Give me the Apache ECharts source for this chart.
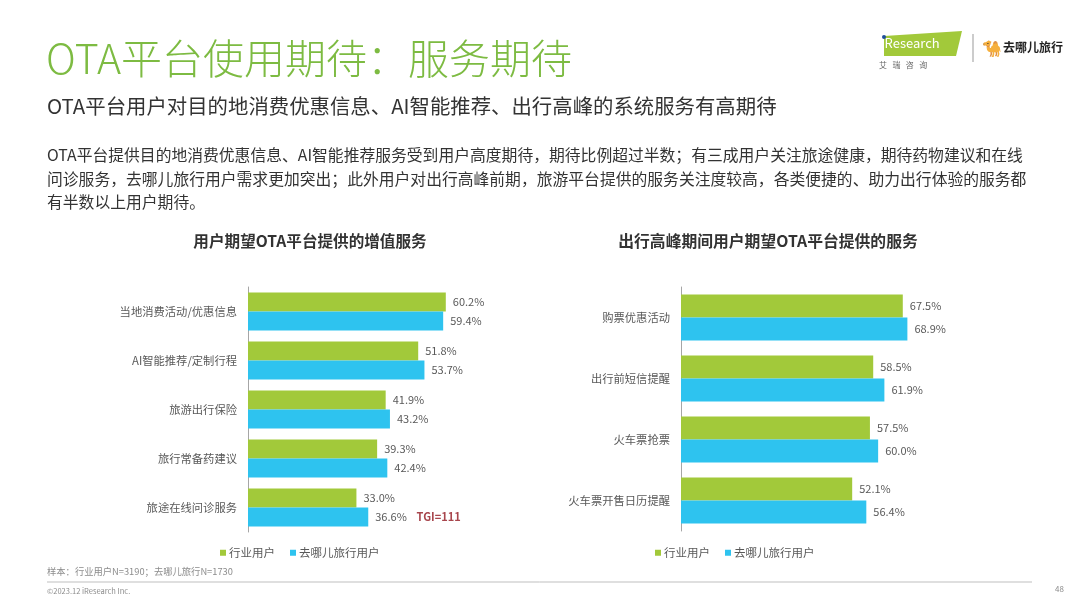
<!DOCTYPE html>
<html lang="zh">

<head>
    <meta charset="UTF-8">
    <title>OTA平台使用期待：服务期待</title>
    <style>
        html, body { margin: 0; padding: 0; background: #fff; }
    </style>
</head>

<body>
    <div id="main" style="width: 1080px; height: 608px"></div>
    <script src="https://cdn.jsdelivr.net/npm/echarts@6/dist/echarts.min.js"></script>
    <script type="text/javascript">
        // 数据
        var seriesNames = ['行业用户', '去哪儿旅行用户'];

        var leftCats = ['当地消费活动/优惠信息', 'AI智能推荐/定制行程', '旅游出行保险', '旅行常备药建议', '旅途在线问诊服务'];
        var leftIndustry = [60.2, 51.8, 41.9, 39.3, 33.0];
        var leftQunar = [59.4, 53.7, 43.2, 42.4, 36.6];

        var rightCats = ['购票优惠活动', '出行前短信提醒', '火车票抢票', '火车票开售日历提醒'];
        var rightIndustry = [67.5, 58.5, 57.5, 52.1];
        var rightQunar = [68.9, 61.9, 60.0, 56.4];

        var tgiNote = { chart: 0, index: 4, text: 'TGI=111' };

        var GREEN = '#a2c93a';
        var BLUE = '#2ec3ef';
        var FONT = '"Noto Sans CJK SC", "Noto Sans", sans-serif';

        var myChart = echarts.init(document.getElementById('main'));

        function pctLabel(p) {
            return p.value.toFixed(1) + '%';
        }

        function barSeries(name, data, idx, barW, withTgi) {
            return {
                name: name,
                type: 'bar',
                xAxisIndex: idx,
                yAxisIndex: idx,
                data: data,
                barWidth: barW,
                barGap: '0%',
                itemStyle: { color: name === seriesNames[0] ? GREEN : BLUE },
                label: {
                    show: true,
                    position: 'right',
                    distance: 7,
                    color: '#595959',
                    fontSize: 11,
                    fontFamily: FONT,
                    formatter: function (p) {
                        if (withTgi && p.dataIndex === tgiNote.index) {
                            return pctLabel(p) + '    {tgi|' + tgiNote.text + '}';
                        }
                        return pctLabel(p);
                    },
                    rich: {
                        tgi: { color: '#a8464d', fontSize: 11, fontWeight: 'bold', fontFamily: FONT }
                    }
                },
                animation: false
            };
        }

        function yAx(idx, cats) {
            return {
                type: 'category',
                gridIndex: idx,
                data: cats,
                inverse: true,
                axisLine: { show: true, lineStyle: { color: '#a6a6a6', width: 1 } },
                axisTick: { show: false },
                axisLabel: { color: '#595959', fontSize: 11.3, margin: 11, fontFamily: FONT }
            };
        }

        function xAx(idx) {
            return {
                type: 'value',
                gridIndex: idx,
                min: 0,
                max: 70,
                show: false,
                splitLine: { show: false }
            };
        }

        function legend(left) {
            return {
                data: seriesNames,
                left: left,
                top: 542,
                icon: 'rect',
                itemWidth: 6,
                itemHeight: 6,
                itemGap: 15,
                selectedMode: false,
                textStyle: { color: '#595959', fontSize: 11.5, fontFamily: FONT, padding: [0, 0, 0, -2] }
            };
        }

        function txt(x, y, text, size, color, weight) {
            return {
                type: 'text',
                left: x,
                top: y,
                style: {
                    text: text,
                    fontSize: size,
                    fill: color,
                    fontWeight: weight || 'normal',
                    fontFamily: FONT
                }
            };
        }

        function ctxt(x, y, text, size) {
            return {
                type: 'text',
                x: x,
                y: y,
                style: { text: text, fontSize: size, fontWeight: 'bold', fill: '#333', fontFamily: FONT, textAlign: 'center' }
            };
        }

        var bodyLines = [
            'OTA平台提供目的地消费优惠信息、AI智能推荐服务受到用户高度期待，期待比例超过半数；有三成用户关注旅途健康，期待药物建议和在线',
            '问诊服务，去哪儿旅行用户需求更加突出；此外用户对出行高峰前期，旅游平台提供的服务关注度较高，各类便捷的、助力出行体验的服务都',
            '有半数以上用户期待。'
        ];

        var graphics = [
            txt(46, 38, 'OTA平台使用期待：服务期待', 41, '#7dbb42', 300),
            txt(47, 96, 'OTA平台用户对目的地消费优惠信息、AI智能推荐、出行高峰的系统服务有高期待', 20.4, '#333333'),
            txt(47, 147, bodyLines[0], 15.8, '#333333'),
            txt(47, 171, bodyLines[1], 15.8, '#333333'),
            txt(47, 194, bodyLines[2], 15.8, '#333333'),
            ctxt(310, 233, '用户期望OTA平台提供的增值服务', 15.6),
            ctxt(768, 233, '出行高峰期间用户期望OTA平台提供的服务', 15.8),
            txt(47, 567, '样本：行业用户N=3190；去哪儿旅行N=1730', 9.3, '#8c8c8c'),
            { type: 'line', shape: { x1: 47, y1: 582, x2: 1032, y2: 582 }, style: { stroke: '#bfbfbf', lineWidth: 1 } },
            txt(47, 587, '©2023.12 iResearch Inc.', 7.5, '#8c8c8c'),
            txt(1055, 585, '48', 8, '#8c8c8c'),
            // 右上角标志
            { type: 'polygon', shape: { points: [[884, 36], [962, 31], [956, 56], [884, 56]] }, style: { fill: '#a2c93a' } },
            txt(881, 37, 'iResearch', 13, '#ffffff'),
            { type: 'circle', shape: { cx: 884, cy: 37, r: 2 }, style: { fill: '#1f4e9c' } },
            txt(879, 61, '艾   瑞   咨   询', 8, '#666666'),
            { type: 'line', shape: { x1: 973, y1: 34, x2: 973, y2: 62 }, style: { stroke: '#999', lineWidth: 1 } },
            txt(982, 40, '🐪', 16, '#1fa3d9'),
            txt(1003, 41, '去哪儿旅行', 12, '#222222', 'bold')
        ];

        var option = {
            backgroundColor: '#ffffff',
            textStyle: { fontFamily: FONT },
            graphic: graphics,
            legend: [legend(215), legend(650)],
            grid: [
                { left: 248, top: 287, width: 230, height: 245 },
                { left: 681, top: 287, width: 230, height: 244 }
            ],
            xAxis: [xAx(0), xAx(1)],
            yAxis: [yAx(0, leftCats), yAx(1, rightCats)],
            series: [
                barSeries(seriesNames[0], leftIndustry, 0, 19, false),
                barSeries(seriesNames[1], leftQunar, 0, 19, true),
                barSeries(seriesNames[0], rightIndustry, 1, 23, false),
                barSeries(seriesNames[1], rightQunar, 1, 23, false)
            ]
        };
        myChart.setOption(option);
    </script>

</body>

</html>
